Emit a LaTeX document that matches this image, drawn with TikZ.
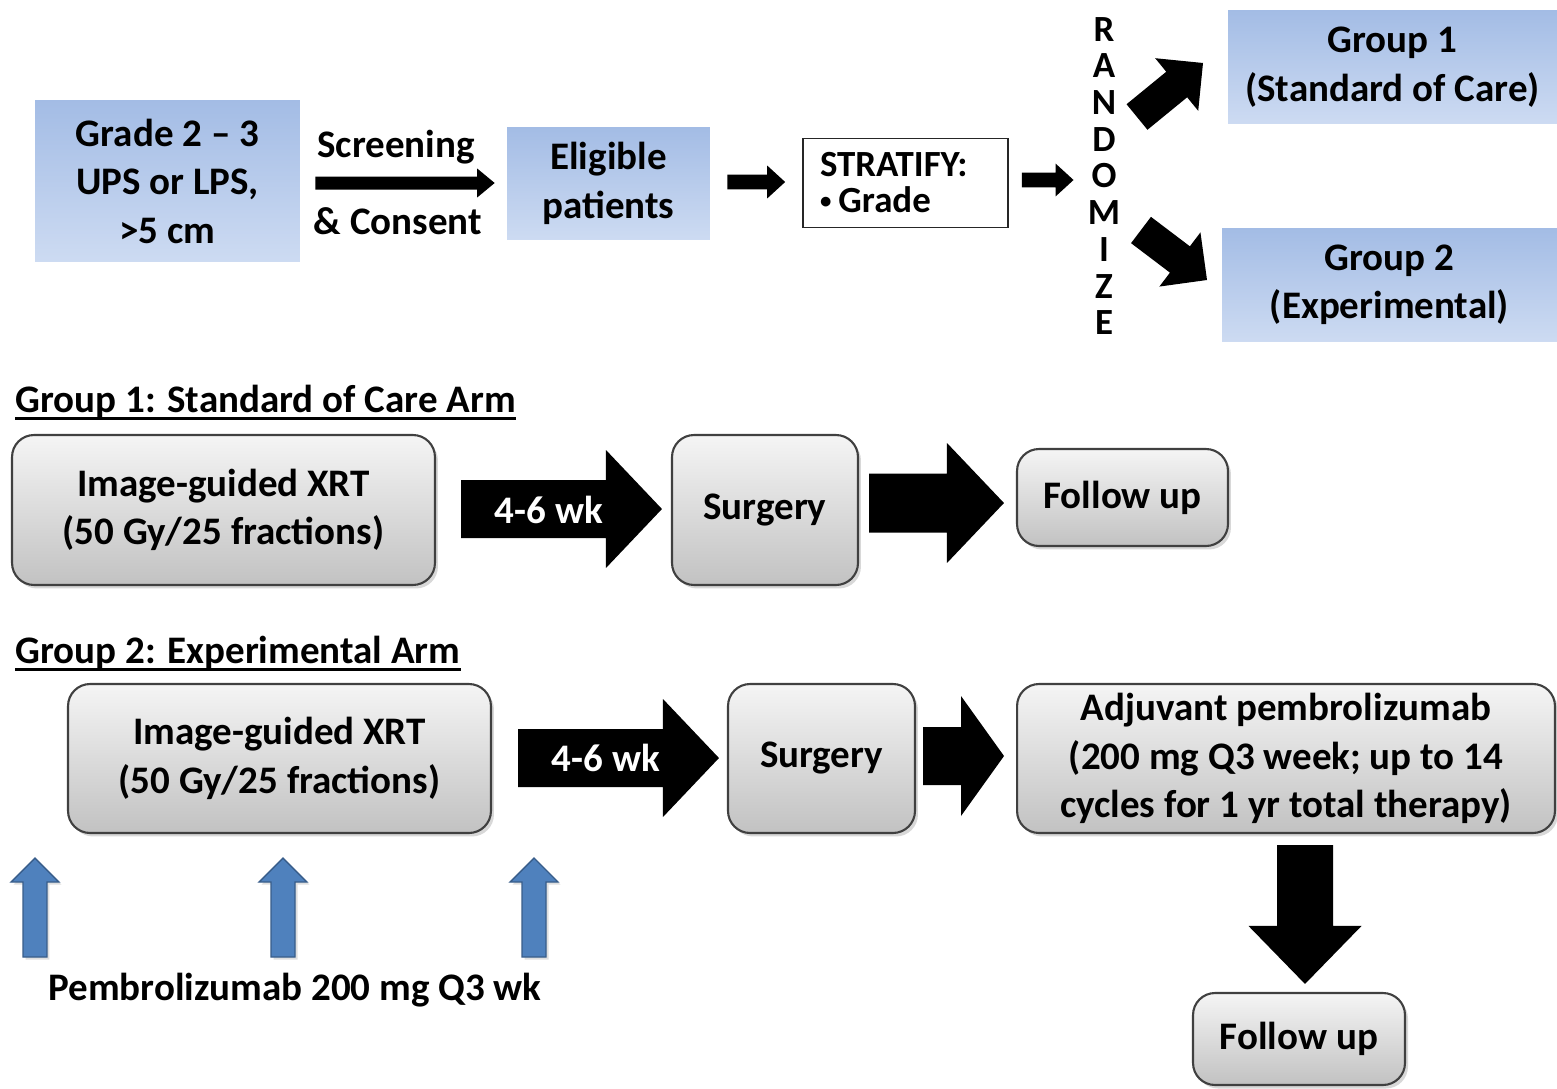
\documentclass[tikz,border=0pt]{standalone}
\usepackage{fontspec}
\setmainfont{Carlito}
\usetikzlibrary{calc,shadows}
\definecolor{bluetop}{RGB}{163,188,229}
\definecolor{bluebot}{RGB}{205,219,242}
\definecolor{arrblue}{RGB}{79,129,189}
\definecolor{arrblueedge}{RGB}{56,93,138}
% block arrow: [style]{from}{to}{shaft half width}{head half width}{head length}
\newcommand\blockarrow[6][fill=black]{%
  \coordinate (bah) at ($(#3)!#6!(#2)$);
  \path[#1] ($(#2)!#4!90:(#3)$) -- ($(bah)!#4!-90:(#2)$) -- ($(bah)!#5!-90:(#2)$) -- (#3)
    -- ($(bah)!#5!90:(#2)$) -- ($(bah)!#4!90:(#2)$) -- ($(#2)!#4!-90:(#3)$) -- cycle;}
\begin{document}
\begin{tikzpicture}[x=0.02cm,y=-0.02cm,
  every node/.style={font=\bfseries\fontsize{22.2pt}{27.6pt}\selectfont, text=black},
  bluebox/.style={top color=bluetop, bottom color=bluebot, align=center, inner sep=0pt},
  graybox/.style={rounded corners=0.44cm, draw=black!75, line width=1.2pt,
    top color=white!96!black, bottom color=white!76!black,
    drop shadow={shadow xshift=0.06cm, shadow yshift=-0.07cm, opacity=0.3},
    align=center, inner sep=0pt},
  stratbox/.style={draw=black!85, line width=1pt, fill=white, align=left,
    text width=3.42cm, inner xsep=0.34cm, inner ysep=0pt, minimum height=1.78cm,
    font=\bfseries\fontsize{21pt}{20.5pt}\selectfont},
  bluearr/.style={fill=arrblue, draw=arrblueedge, line width=0.8pt,
    drop shadow={shadow xshift=0.05cm, shadow yshift=-0.05cm, opacity=0.25}},
  wklabel/.style={text=white, inner sep=0pt},
  header/.style={anchor=base west, inner sep=0pt},
  lbl/.style={anchor=base, inner sep=0pt}]

\fill[white] (0,0) rectangle (1557,1088);
\useasboundingbox (0,0) rectangle (1557,1088);

% ---------- top row ----------
\node[bluebox, minimum width=5.3cm, minimum height=3.24cm] (grade) at (167.5,181) {Grade 2 – 3\\UPS or LPS,\\>5 cm};
\node[bluebox, minimum width=4.06cm, minimum height=2.26cm] (elig) at (608.5,183.5) {Eligible\\patients};
\node[stratbox] (strat) at (905.5,183) {STRATIFY:\\\raisebox{0.25ex}{\fontsize{13pt}{13pt}\selectfont•}\hspace{4pt}Grade};
\node[inner sep=0pt, align=center, font=\bfseries\fontsize{21pt}{20.9pt}\selectfont] (rand) at (1104,176) {R\\A\\N\\D\\O\\M\\I\\Z\\E};
\node[bluebox, minimum width=6.58cm, minimum height=2.28cm] (grp1) at (1392.5,67) {Group 1\\(Standard of Care)};
\node[bluebox, minimum width=6.7cm, minimum height=2.28cm] (grp2) at (1389.5,285) {Group 2\\(Experimental)};

\node[lbl] (scr) at (396,157) {Screening};
\node[lbl] (cons) at (398,234) {\& Consent};

\coordinate (c1a) at ($(grade.east)+(15,2)$);
\coordinate (c1b) at ($(elig.west)+(-12,-0.5)$);
\blockarrow{c1a}{c1b}{0.13cm}{0.29cm}{0.35cm}
\coordinate (c2a) at ($(elig.east)+(17,-1.5)$);
\coordinate (c2b) at ($(strat.west)+(-17,-1)$);
\blockarrow{c2a}{c2b}{0.15cm}{0.33cm}{0.36cm}
\coordinate (c3a) at ($(strat.east)+(13,-3)$);
\coordinate (c3b) at ($(rand.west)+(-14,4)$);
\blockarrow{c3a}{c3b}{0.15cm}{0.33cm}{0.36cm}

\coordinate (r1a) at (1137,117);
\coordinate (r1b) at (1203,63);
\blockarrow{r1a}{r1b}{0.33cm}{0.68cm}{0.68cm}
\coordinate (r2a) at (1141,230);
\coordinate (r2b) at (1207,280);
\blockarrow{r2a}{r2b}{0.33cm}{0.68cm}{0.68cm}

% ---------- group 1 ----------
\node[header] (h1) at (15,412) {Group 1: Standard of Care Arm};
\draw[line width=0.05cm] ([yshift=-0.13cm]h1.base west) -- ([yshift=-0.13cm]h1.base east);

\node[graybox, minimum width=8.46cm, minimum height=3.0cm] (xrt1) at (223.5,510) {Image-guided XRT\\(50 Gy/25 fractions)};
\node[graybox, minimum width=3.72cm, minimum height=3.0cm] (surg1) at (765,510) {Surgery};
\node[graybox, minimum width=4.22cm, minimum height=1.94cm] (fu1) at (1122.5,497.5) {Follow up};

\coordinate (g1a) at ($(xrt1.east)+(25,-1)$);
\coordinate (g1b) at ($(surg1.west)+(-9,-1)$);
\blockarrow{g1a}{g1b}{0.58cm}{1.18cm}{1.12cm}
\node[wklabel] (wk1) at (549,510) {4-6 wk};
\coordinate (g1c) at ($(surg1.east)+(10,-7)$);
\coordinate (g1d) at ($(fu1.west)+(-12,5.5)$);
\blockarrow{g1c}{g1d}{0.59cm}{1.2cm}{1.14cm}

% ---------- group 2 ----------
\node[header] (h2) at (15,663) {Group 2: Experimental Arm};
\draw[line width=0.05cm] ([yshift=-0.13cm]h2.base west) -- ([yshift=-0.13cm]h2.base east);

\node[graybox, minimum width=8.46cm, minimum height=2.98cm] (xrt2) at (279.5,758.5) {Image-guided XRT\\(50 Gy/25 fractions)};
\node[graybox, minimum width=3.74cm, minimum height=2.98cm] (surg2) at (821.5,758.5) {Surgery};
\node[graybox, minimum width=10.76cm, minimum height=2.98cm] (adj) at (1286,758.5) {Adjuvant pembrolizumab\\(200 mg Q3 week; up to 14\\cycles for 1 yr total therapy)};
\node[graybox, minimum width=4.24cm, minimum height=1.84cm] (fu2) at (1299,1039) {Follow up};

\coordinate (g2a) at ($(xrt2.east)+(26,-0.5)$);
\coordinate (g2b) at ($(surg2.west)+(-8,-0.5)$);
\blockarrow{g2a}{g2b}{0.58cm}{1.18cm}{1.12cm}
\node[wklabel] (wk2) at (606,758) {4-6 wk};
\coordinate (g2c) at ($(surg2.east)+(7,-2.5)$);
\coordinate (g2d) at ($(adj.west)+(-12,-2.5)$);
\blockarrow{g2c}{g2d}{0.58cm}{1.2cm}{0.86cm}
\coordinate (dn1) at ($(adj.south)+(19,11)$);
\coordinate (dn2) at ($(fu2.north)+(6,-8)$);
\blockarrow{dn1}{dn2}{0.56cm}{1.13cm}{1.16cm}

% ---------- pembrolizumab dosing ----------
\coordinate (p1a) at (35,957);  \coordinate (p1b) at (35,858);
\coordinate (p2a) at (283,957); \coordinate (p2b) at (283,858);
\coordinate (p3a) at (534,957); \coordinate (p3b) at (534,858);
\blockarrow[bluearr]{p1a}{p1b}{0.24cm}{0.48cm}{0.48cm}
\blockarrow[bluearr]{p2a}{p2b}{0.24cm}{0.48cm}{0.48cm}
\blockarrow[bluearr]{p3a}{p3b}{0.24cm}{0.48cm}{0.48cm}
\node[lbl] (pem) at (295,1000) {Pembrolizumab 200 mg Q3 wk};
\end{tikzpicture}
\end{document}
